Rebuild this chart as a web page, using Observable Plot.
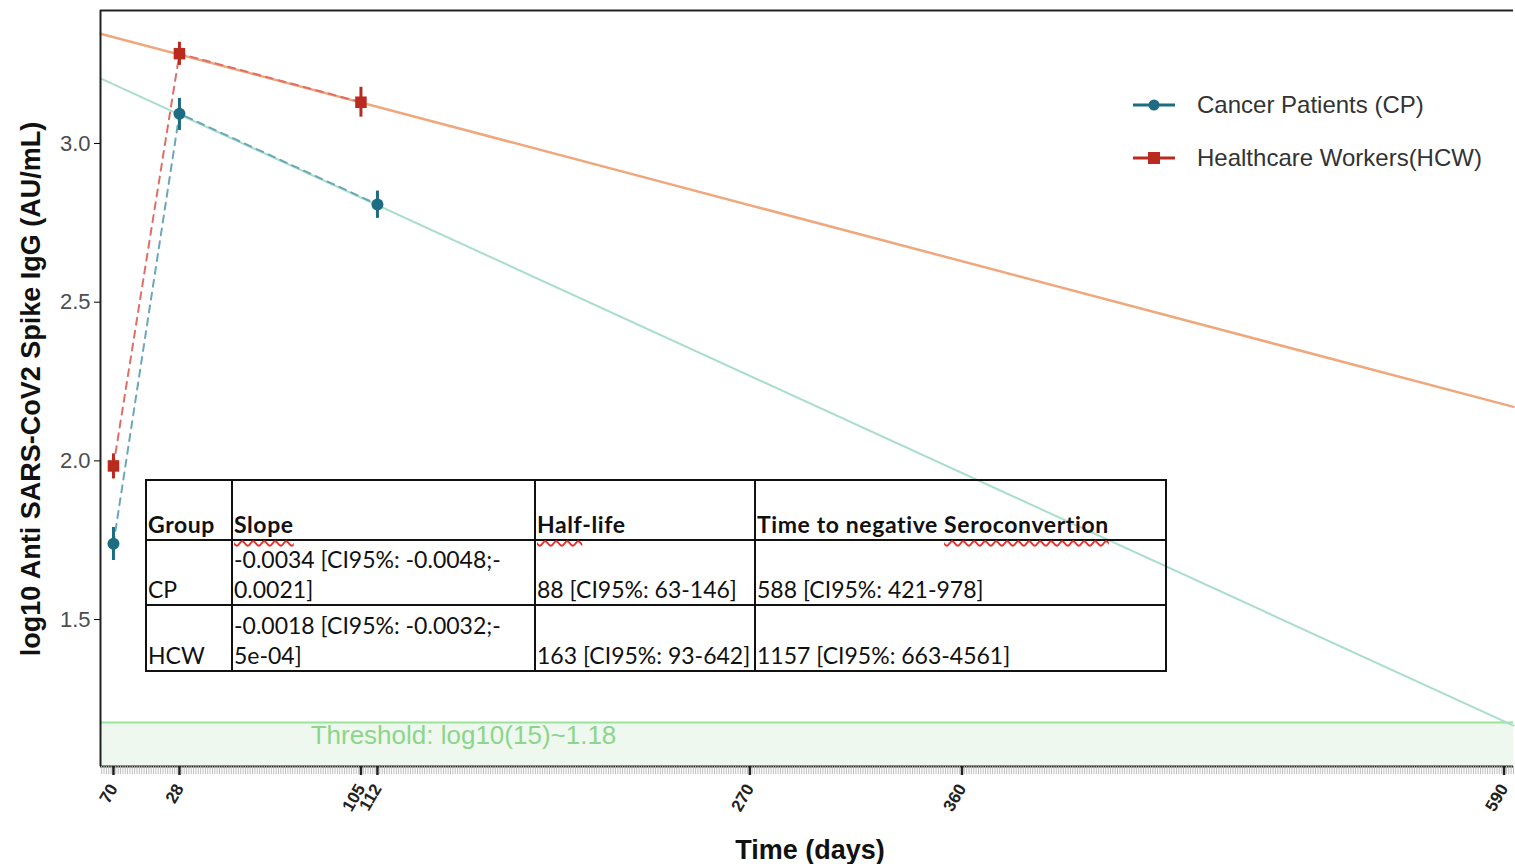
<!DOCTYPE html>
<html>
<head>
<meta charset="utf-8">
<script src="https://cdn.jsdelivr.net/npm/d3@7"></script>
<script src="https://cdn.jsdelivr.net/npm/@observablehq/plot@0.6"></script>
<style>
  html, body { margin: 0; padding: 0; background: #fff; }
  #wrap { position: relative; width: 1515px; height: 864px; overflow: hidden; }
  #tbl { position: absolute; left: 145px; top: 479px; border-collapse: collapse; table-layout: fixed;
         width: 1020px; font-family: Lato, "Open Sans", sans-serif; font-size: 23px; color: #111; }
  #tbl td { border: 2.5px solid #111; vertical-align: bottom; padding: 0 0 0 1px;
            line-height: 30px; white-space: nowrap; overflow: visible; }
  #tbl tr.h td { font-weight: bold; letter-spacing: 0.6px; }
  .sq { text-decoration: underline wavy #e8302a; text-decoration-skip-ink: none;
        text-underline-offset: 7px; text-decoration-thickness: 1.5px; }
</style>
</head>
<body>
<div id="wrap"></div>
<script>
// ---- data ----
const cpDays  = [0, 28, 112];
const cpMean  = [1.739, 3.094, 2.808];
const cpLo    = [1.686, 3.041, 2.764];
const cpHi    = [1.790, 3.142, 2.850];

const hcwDays = [0, 28, 105];
const hcwMean = [1.984, 3.283, 3.130];
const hcwLo   = [1.943, 3.246, 3.083];
const hcwHi   = [2.022, 3.319, 3.177];

// fitted decay lines (end points at the plot edges)
const fitDays = [-5.5, 594];
const cpFit   = [3.205, 1.166];
const hcwFit  = [3.346, 2.170];

const threshold = 1.176;
const xDomain = [-5.5, 594];
const yDomain = [1.037, 3.419];

const xTicks      = [0, 28, 105, 112, 270, 360, 590];
const xTickLabels = ["70", "28", "105", "112", "270", "360", "590"];
const yTicks      = [1.5, 2.0, 2.5, 3.0];

const groups = ["Cancer Patients (CP)", "Healthcare Workers(HCW)"];
const tableHeader = ["Group", "Slope", "Half-life", "Time to negative Seroconvertion"];
const tableRows = [
  ["CP",  ["-0.0034 [CI95%: -0.0048;-", "0.0021]"], "88 [CI95%: 63-146]",  "588 [CI95%: 421-978]"],
  ["HCW", ["-0.0018 [CI95%: -0.0032;-", "5e-04]"],  "163 [CI95%: 93-642]", "1157 [CI95%: 663-4561]"]
];

const cpColor = "#1d6c82", hcwColor = "#bb2a1f";

const cp  = cpDays.map((d, i) => ({day: d, v: cpMean[i], lo: cpLo[i], hi: cpHi[i]}));
const hcw = hcwDays.map((d, i) => ({day: d, v: hcwMean[i], lo: hcwLo[i], hi: hcwHi[i]}));
const cpLine  = fitDays.map((d, i) => ({day: d, v: cpFit[i]}));
const hcwLine = fitDays.map((d, i) => ({day: d, v: hcwFit[i]}));
const minor = d3.range(-5, 595);

const svg = Plot.plot({
  width: 1515, height: 864,
  marginLeft: 100, marginTop: 10, marginRight: 2, marginBottom: 98,
  style: {fontFamily: "'Liberation Sans', Arial, sans-serif", background: "#fff"},
  x: {domain: xDomain},
  y: {domain: yDomain},
  marks: [
    Plot.areaY(fitDays, {x: d => d, y1: yDomain[0], y2: threshold, fill: "#eef8ee"}),
    Plot.ruleY([threshold], {stroke: "#9be39b", strokeWidth: 2}),
    Plot.text(["Threshold: log10(15)~1.18"], {x: 148.5, y: 1.135, text: d => d, fill: "#8cd58c", fontSize: 26}),
    Plot.line(cpLine,  {x: "day", y: "v", stroke: "#a9ddd0", strokeWidth: 2}),
    Plot.line(hcwLine, {x: "day", y: "v", stroke: "#efa77c", strokeWidth: 2.5}),
    Plot.line(cp,  {x: "day", y: "v", stroke: "#6aa7b8", strokeWidth: 2, strokeDasharray: "7,6"}),
    Plot.line(hcw, {x: "day", y: "v", stroke: "#e06e66", strokeWidth: 2, strokeDasharray: "7,6"}),
    Plot.ruleX(cp,  {x: "day", y1: "lo", y2: "hi", stroke: cpColor, strokeWidth: 3}),
    Plot.ruleX(hcw, {x: "day", y1: "lo", y2: "hi", stroke: hcwColor, strokeWidth: 3}),
    Plot.dot(cp,  {x: "day", y: "v", r: 6, fill: cpColor, symbol: "circle"}),
    Plot.dot(hcw, {x: "day", y: "v", r: 6.5, fill: hcwColor, symbol: "square"}),
    Plot.ruleX([xDomain[0]], {stroke: "#222", strokeWidth: 2}),
    Plot.ruleY([yDomain[0], yDomain[1]], {stroke: "#222", strokeWidth: 2}),
    Plot.axisX({ticks: minor, tickFormat: () => "", tickSize: 8, stroke: "#bdbdbd", strokeWidth: 1, label: null}),
    Plot.axisX({ticks: xTicks, tickFormat: (d) => xTickLabels[xTicks.indexOf(d)], tickSize: 9, strokeWidth: 2.5,
                stroke: "#222", tickRotate: -60, fontSize: 17, fontWeight: "bold", fill: "#222", tickPadding: 10, label: null}),
    Plot.axisY({ticks: yTicks, tickFormat: d3.format(".1f"), tickSize: 6, fontSize: 22, fill: "#4d4d4d",
                tickPadding: 4, label: null})
  ]
});

const s = d3.select(svg);
s.append("text").attr("transform", "translate(40,389) rotate(-90)")
  .attr("text-anchor", "middle").attr("font-size", 27).attr("font-weight", "bold").attr("fill", "#111")
  .text("log10 Anti SARS-CoV2 Spike IgG (AU/mL)");
s.append("text").attr("x", 810).attr("y", 859)
  .attr("text-anchor", "middle").attr("font-size", 27).attr("font-weight", "bold").attr("fill", "#111")
  .text("Time (days)");

// legend
const lg = s.append("g").attr("transform", "translate(1133,105)");
[cpColor, hcwColor].forEach((c, i) => {
  const g = lg.append("g").attr("transform", `translate(0,${i * 53})`);
  g.append("line").attr("x1", 0).attr("x2", 42).attr("stroke", c).attr("stroke-width", 3);
  if (i === 0) g.append("circle").attr("cx", 21).attr("r", 5.5).attr("fill", c);
  else g.append("rect").attr("x", 15).attr("y", -6).attr("width", 12).attr("height", 12).attr("fill", c);
  g.append("text").attr("x", 64).attr("dy", "0.35em").attr("text-anchor", "start")
    .attr("font-size", 24).attr("fill", "#333").text(groups[i]);
});

const wrap = document.getElementById("wrap");
wrap.appendChild(svg);

// inset table
const widths = [86, 303, 220, 411];
const heights = [60, 65, 66];
const tbl = document.createElement("table");
tbl.id = "tbl";
const cg = document.createElement("colgroup");
widths.forEach(w => { const c = document.createElement("col"); c.style.width = w + "px"; cg.appendChild(c); });
tbl.appendChild(cg);
const hr = tbl.insertRow(); hr.className = "h"; hr.style.height = heights[0] + "px";
tableHeader.forEach((h, j) => {
  const td = hr.insertCell();
  if (h === "Slope") td.innerHTML = '<span class="sq">Slope</span>';
  else if (h === "Half-life") td.innerHTML = '<span class="sq">Half</span>-life';
  else if (h.startsWith("Time")) td.innerHTML = 'Time to negative <span class="sq">Seroconvertion</span>';
  else td.textContent = h;
});
tableRows.forEach((r, i) => {
  const tr = tbl.insertRow(); tr.style.height = heights[i + 1] + "px";
  r.forEach((c, j) => {
    const td = tr.insertCell();
    if (Array.isArray(c)) td.innerHTML = c.join("<br>"); else td.textContent = c;
  });
});
wrap.appendChild(tbl);
</script>
</body>
</html>
